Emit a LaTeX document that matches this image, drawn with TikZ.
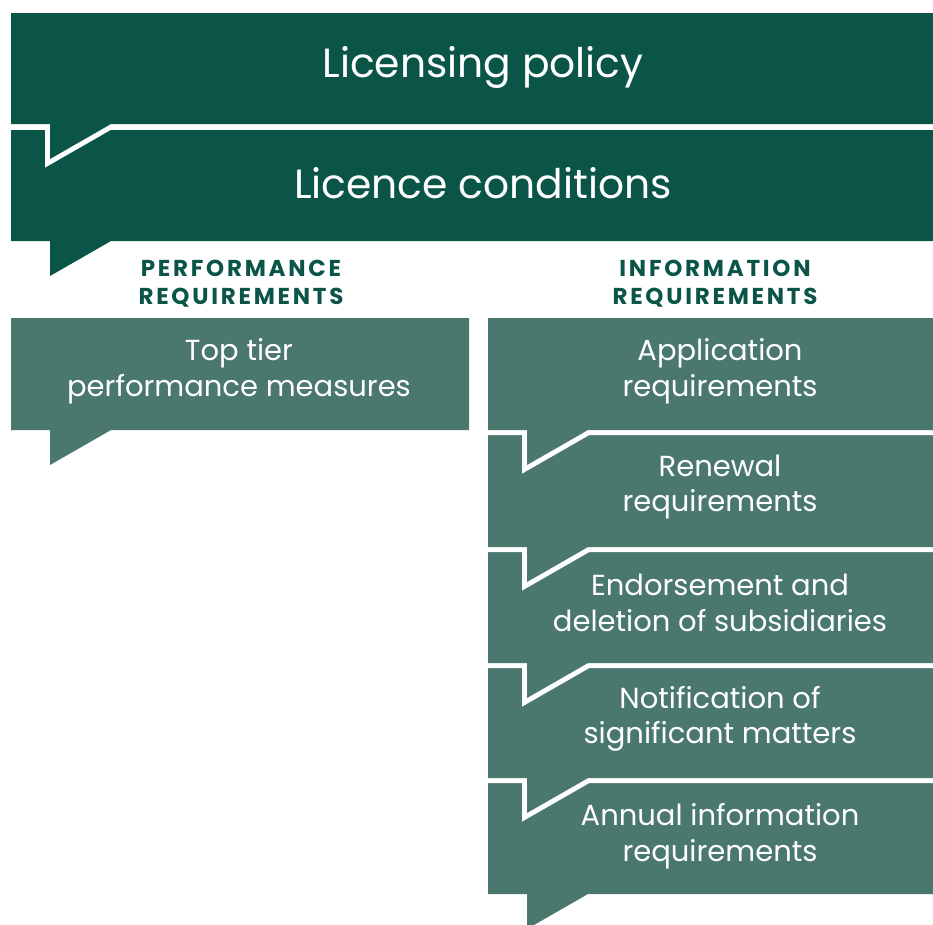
\documentclass[tikz,border=0pt]{standalone}
\usepackage{fontspec}
\setmainfont{Poppins}
\newfontfamily\headfont[LetterSpace=12]{Poppins}
\definecolor{darkg}{HTML}{0B5548}
\definecolor{midg}{HTML}{4A786E}
% #1 left, #2 top, #3 right, #4 bottom, #5 colour
\newcommand\speechshape[5]{%
  \draw[white, line width=10pt, miter limit=20] (#1,#2) -- (#3,#2) -- (#3,#4) -- (#1+100,#4) -- (#1+39,#4+35) -- (#1+39,#4) -- (#1,#4) -- cycle;
  \fill[#5] (#1,#2) -- (#3,#2) -- (#3,#4) -- (#1+100,#4) -- (#1+39,#4+35) -- (#1+39,#4) -- (#1,#4) -- cycle;
}
\begin{document}
\begin{tikzpicture}[x=1pt,y=-1pt,
  bigtxt/.style={text=white, font=\fontsize{40.8}{46}\selectfont, inner sep=0pt},
  boxtxt/.style={text=white, align=center, font=\fontsize{29}{35.5}\selectfont, inner sep=0pt},
  headtxt/.style={text=darkg, align=center, font=\headfont\fontsize{23}{28}\selectfont\bfseries, inner sep=0pt}]
\useasboundingbox (0,0) rectangle (933,924);
% top group
\speechshape{11}{130}{950}{241}{darkg}
\speechshape{11}{13}{950}{124}{darkg}
\node[bigtxt] (policy) at (483,67) {Licensing policy};
\node[bigtxt] (cond) at (483,183) {Licence conditions};
% headers
\node[headtxt] (perfh) at (241,284) {PERFORMANCE\\REQUIREMENTS};
\node[headtxt] (infoh) at (715,284) {INFORMATION\\REQUIREMENTS};
% left column
\speechshape{11}{318}{469}{430}{midg}
\node[boxtxt] (top) at (239,371) {Top tier\\performance measures};
% right column
\speechshape{488}{783}{950}{894}{midg}
\speechshape{488}{668}{950}{778}{midg}
\speechshape{488}{552}{950}{663}{midg}
\speechshape{488}{435}{950}{547}{midg}
\speechshape{488}{318}{950}{430}{midg}
\node[boxtxt] (app) at (720,371) {Application\\requirements};
\node[boxtxt] (ren) at (720,487) {Renewal\\requirements};
\node[boxtxt] (end) at (720,603) {Endorsement and\\deletion of subsidiaries};
\node[boxtxt] (note) at (720,719) {Notification of\\significant matters};
\node[boxtxt] (ann) at (720,836) {Annual information\\requirements};
\end{tikzpicture}
\end{document}
